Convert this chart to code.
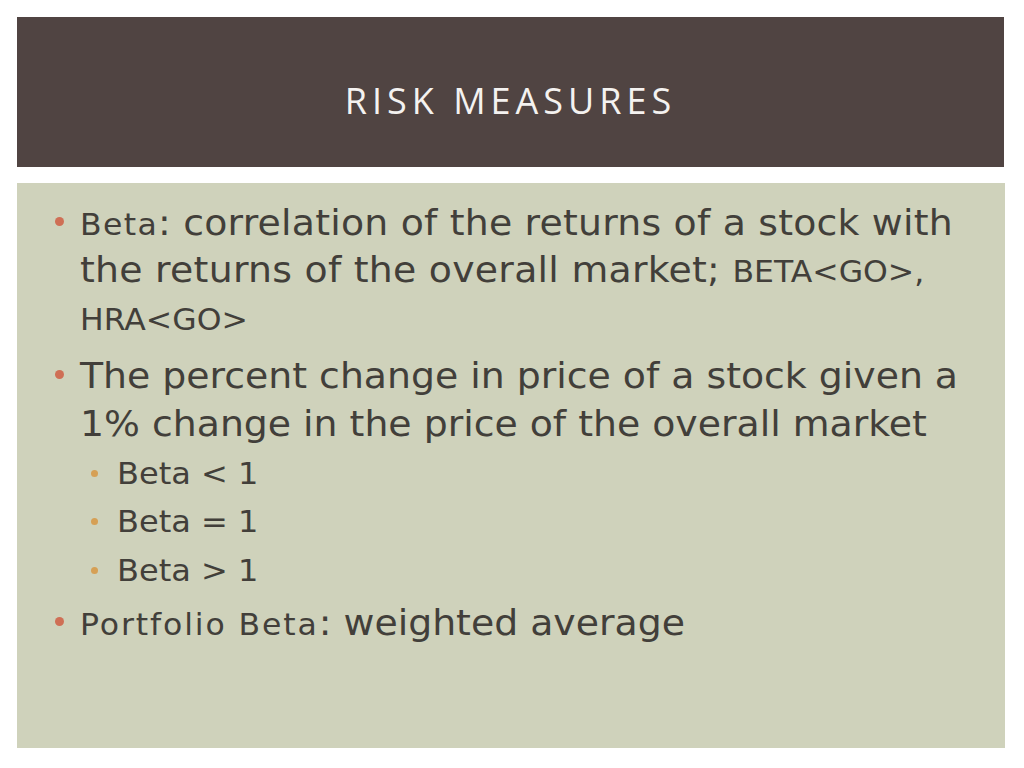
<!DOCTYPE html>
<html>
<head>
<meta charset="utf-8">
<script src="https://cdn.jsdelivr.net/npm/chart.js@4"></script>
<style>
  html, body { margin: 0; padding: 0; background: #fff; }
  body { width: 1024px; height: 768px; position: relative; overflow: hidden; }
  #header { position: absolute; left: 17px; top: 17px; width: 987px; height: 150px; background: #504442; }
  #title { position: absolute; left: 0; width: 100%; top: 66px; text-align: center;
           font-family: "Open Sans", sans-serif; font-size: 36px; letter-spacing: 5px;
           color: #f4f2f0; line-height: 1; }
  #panel { position: absolute; left: 17px; top: 183px; width: 988px; height: 565px; background: #cfd2bb; }
  .line { position: absolute; white-space: nowrap; font-family: "DejaVu Sans", sans-serif;
          color: #423f3a; line-height: 1; transform-origin: 0 0; transform: scaleX(1.05); }
  .dot { position: absolute; border-radius: 50%; }
</style>
</head>
<body>
<div id="header"><div id="title">RISK MEASURES</div></div>
<div id="panel"></div>
<div id="slide"></div>
<script>
// slide content: one entry per text line, [text, font size, letter spacing]
const lineText = [
  [['Beta', 30, 1.3], [': correlation of the returns of a stock with', 36, 0.2]],
  [['the returns of the overall market; ', 36, 0.25], ['BETA<GO>,', 30, 0]],
  [['HRA<GO>', 30, 0]],
  [['The percent change in price of a stock given a', 36, 0]],
  [['1% change in the price of the overall market', 36, 0]],
  [['Beta < 1', 30.5, 0]],
  [['Beta = 1', 30.5, 0]],
  [['Beta > 1', 30.5, 0]],
  [['Portfolio Beta', 30, 1.8], [': weighted average', 36, 0]]
];
const lineLevel = [1, 0, 0, 1, 0, 2, 2, 2, 1];   // 1 = bullet, 2 = sub bullet, 0 = continuation
const lineBaseline = [235, 282, 330, 388, 436, 485, 533, 582, 635];

const slide = document.getElementById('slide');
lineText.forEach((parts, i) => {
  const lv = lineLevel[i];
  const div = document.createElement('div');
  div.className = 'line';
  div.style.left = (lv === 2 ? 117 : 80) + 'px';
  const big = Math.max(...parts.map(p => p[1]));
  div.style.top = (lineBaseline[i] - big * 0.846) + 'px';
  parts.forEach(([t, s, ls]) => {
    const span = document.createElement('span');
    span.textContent = t;
    span.style.fontSize = s + 'px';
    span.style.letterSpacing = ls + 'px';
    div.appendChild(span);
  });
  slide.appendChild(div);
  if (lv > 0) {
    const d = document.createElement('div');
    d.className = 'dot';
    const r = lv === 1 ? 9 : 7;
    const cx = lv === 1 ? 59 : 94;
    const cy = lineBaseline[i] - (lv === 1 ? 13.5 : 12);
    d.style.width = d.style.height = r + 'px';
    d.style.background = lv === 1 ? '#cf6f55' : '#d6a055';
    d.style.left = (cx - r / 2) + 'px';
    d.style.top = (cy - r / 2) + 'px';
    slide.appendChild(d);
  }
});
</script>
</body>
</html>
